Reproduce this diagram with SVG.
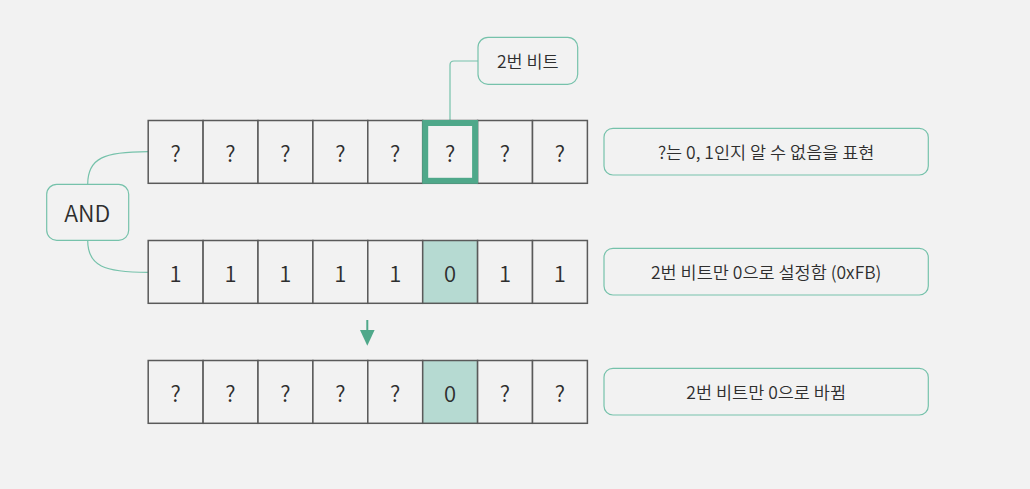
<svg xmlns="http://www.w3.org/2000/svg" width="1030" height="489" viewBox="0 0 1030 489">
<style>
.bg{fill:#f2f2f2}
.cell{fill:#f2f2f2;stroke:#5a5a5a;stroke-width:1.5}
.box{fill:#f2f2f2;stroke:#76c2ab;stroke-width:1.2}
.conn{fill:none;stroke:#76c2ab;stroke-width:1.2}
.ct{font-family:"Noto Sans CJK KR","Noto Sans",sans-serif;font-weight:350;font-size:22px;fill:#2e2e2e;text-anchor:middle;dominant-baseline:central}
.at{font-family:"Noto Sans CJK KR","Noto Sans",sans-serif;font-weight:350;font-size:23px;fill:#2e2e2e;text-anchor:middle;dominant-baseline:central}
.lt{font-family:"Noto Sans CJK KR","Noto Sans",sans-serif;font-weight:350;font-size:17.5px;fill:#2e2e2e;text-anchor:middle;dominant-baseline:central}
</style>
<rect class="bg" x="0" y="0" width="1030" height="489"/>
<g id="connectors">
<path class="conn" d="M87.7,184.3 C87.7,158 104,151.7 148,151.7"/>
<path class="conn" d="M87.7,240.3 C87.7,266 104,272.3 148,272.3"/>
<path class="conn" d="M478,61 L454,61 Q450,61 450,65 L450,120"/>
<line x1="367.3" y1="320" x2="367.3" y2="332" stroke="#4fa88a" stroke-width="2"/>
<polygon points="360,330 374.6,330 367.3,345.7" fill="#4fa88a"/>
</g>
<g id="row1">
<rect class="cell" x="148.2" y="120.5" width="54.9" height="62.8"/>
<rect class="cell" x="203.1" y="120.5" width="54.9" height="62.8"/>
<rect class="cell" x="258" y="120.5" width="54.9" height="62.8"/>
<rect class="cell" x="312.9" y="120.5" width="54.9" height="62.8"/>
<rect class="cell" x="367.8" y="120.5" width="54.9" height="62.8"/>
<rect class="cell" x="422.7" y="120.5" width="54.9" height="62.8"/>
<rect class="cell" x="477.6" y="120.5" width="54.9" height="62.8"/>
<rect class="cell" x="532.5" y="120.5" width="54.9" height="62.8"/>
<rect x="425.2" y="123" width="49.9" height="57.8" fill="none" stroke="#4fa88a" stroke-width="6"/>
<text class="ct" x="175.6" y="151.9">?</text>
<text class="ct" x="230.5" y="151.9">?</text>
<text class="ct" x="285.4" y="151.9">?</text>
<text class="ct" x="340.3" y="151.9">?</text>
<text class="ct" x="395.2" y="151.9">?</text>
<text class="ct" x="450.1" y="151.9">?</text>
<text class="ct" x="505" y="151.9">?</text>
<text class="ct" x="559.9" y="151.9">?</text>
</g>
<g id="row2">
<rect class="cell" x="148.2" y="240.5" width="54.9" height="62.8"/>
<rect class="cell" x="203.1" y="240.5" width="54.9" height="62.8"/>
<rect class="cell" x="258" y="240.5" width="54.9" height="62.8"/>
<rect class="cell" x="312.9" y="240.5" width="54.9" height="62.8"/>
<rect class="cell" x="367.8" y="240.5" width="54.9" height="62.8"/>
<rect class="cell" x="422.7" y="240.5" width="54.9" height="62.8" style="fill:#b6dad2"/>
<rect class="cell" x="477.6" y="240.5" width="54.9" height="62.8"/>
<rect class="cell" x="532.5" y="240.5" width="54.9" height="62.8"/>
<text class="ct" x="175.6" y="271.9">1</text>
<text class="ct" x="230.5" y="271.9">1</text>
<text class="ct" x="285.4" y="271.9">1</text>
<text class="ct" x="340.3" y="271.9">1</text>
<text class="ct" x="395.2" y="271.9">1</text>
<text class="ct" x="450.1" y="271.9">0</text>
<text class="ct" x="505" y="271.9">1</text>
<text class="ct" x="559.9" y="271.9">1</text>
</g>
<g id="row3">
<rect class="cell" x="148.2" y="360.5" width="54.9" height="62.8"/>
<rect class="cell" x="203.1" y="360.5" width="54.9" height="62.8"/>
<rect class="cell" x="258" y="360.5" width="54.9" height="62.8"/>
<rect class="cell" x="312.9" y="360.5" width="54.9" height="62.8"/>
<rect class="cell" x="367.8" y="360.5" width="54.9" height="62.8"/>
<rect class="cell" x="422.7" y="360.5" width="54.9" height="62.8" style="fill:#b6dad2"/>
<rect class="cell" x="477.6" y="360.5" width="54.9" height="62.8"/>
<rect class="cell" x="532.5" y="360.5" width="54.9" height="62.8"/>
<text class="ct" x="175.6" y="391.9">?</text>
<text class="ct" x="230.5" y="391.9">?</text>
<text class="ct" x="285.4" y="391.9">?</text>
<text class="ct" x="340.3" y="391.9">?</text>
<text class="ct" x="395.2" y="391.9">?</text>
<text class="ct" x="450.1" y="391.9">0</text>
<text class="ct" x="505" y="391.9">?</text>
<text class="ct" x="559.9" y="391.9">?</text>
</g>
<g id="and">
<rect class="box" x="46.7" y="184.3" width="82" height="56" rx="10"/>
<text class="at" x="87.2" y="211.5">AND</text>
</g>
<g id="bit2">
<rect class="box" x="478" y="37.3" width="99.7" height="47" rx="10"/>
<text class="lt" x="527.8" y="60.5">2번 비트</text>
</g>
<g id="note1">
<rect class="box" x="604" y="128.3" width="324.3" height="46.7" rx="9"/>
<text class="lt" x="766.2" y="151.4">?는 0, 1인지 알 수 없음을 표현</text>
</g>
<g id="note2">
<rect class="box" x="604" y="248.3" width="324.3" height="46.7" rx="9"/>
<text class="lt" x="766.2" y="271.4">2번 비트만 0으로 설정함 (0xFB)</text>
</g>
<g id="note3">
<rect class="box" x="604" y="368.3" width="324.3" height="46.7" rx="9"/>
<text class="lt" x="766.2" y="391.4">2번 비트만 0으로 바뀜</text>
</g>
</svg>
